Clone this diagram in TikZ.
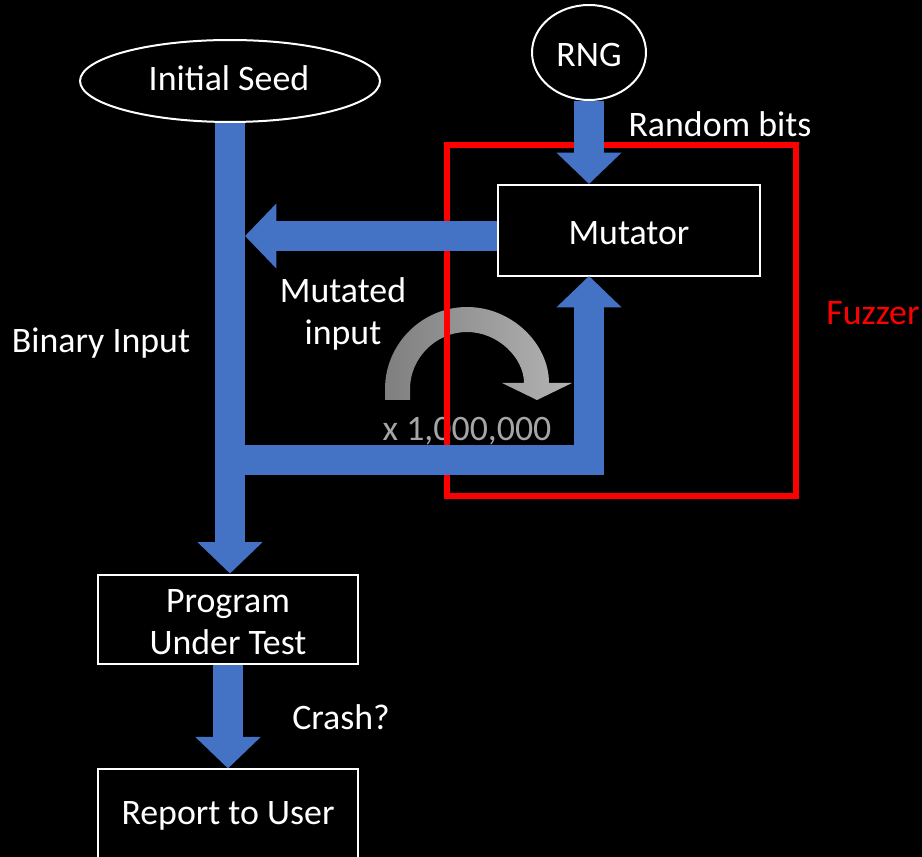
\documentclass[tikz,border=0pt]{standalone}
\usepackage{fontspec}
\setmainfont{Carlito}
\usetikzlibrary{arrows.meta, positioning, shapes.geometric}
\definecolor{arrowblue}{HTML}{4472C4}
\definecolor{fuzzred}{HTML}{FF0000}
\definecolor{loopgray}{HTML}{A6A6A6}
\definecolor{loopdark}{HTML}{7F7F7F}
\definecolor{looplight}{HTML}{B4B4B4}
\tikzset{
    block/.style={
        rectangle,
        draw=white,
        line width=0.04cm,
        minimum width=5.22cm,
        minimum height=1.8cm,
        inner sep=0pt,
        text=white,
        align=center
    },
    oval/.style={
        ellipse,
        draw=white,
        line width=0.04cm,
        inner sep=0pt,
        text=white
    },
    plain/.style={
        text=white,
        align=center,
        inner sep=0pt
    },
    fuzzbox/.style={
        rectangle,
        draw=fuzzred,
        line width=0.12cm,
        minimum width=6.98cm,
        minimum height=7.02cm,
        inner sep=0pt
    },
    fat/.style={
        draw=arrowblue,
        line width=0.6cm,
        -{Triangle[length=0.63cm, width=1.27cm]}
    }
}

\begin{document}
\begin{tikzpicture}[x=0.02cm, y=-0.02cm, font=\fontsize{20.4}{23.8}\selectfont]

\useasboundingbox (0,0) rectangle (922,857);
\fill[black] (0,0) rectangle (922,857);

% Sources
\node[oval, minimum width=6cm, minimum height=1.64cm] (seed) at (230,81) {};
\node[plain] at (229,78) {Initial Seed};
\node[oval, minimum width=2.28cm, minimum height=1.9cm] (rng) at (589,52.5) {};
\node[plain] at (589,55) {RNG};

% Fuzzer
\node[block, minimum width=5.24cm, minimum height=1.82cm] (mutator) at (629,230.5) {};
\node[plain] at (629,233) {Mutator};

% Loop marker
\shade[left color=loopdark, right color=looplight]
    (385,400) -- (385,389) .. controls (385,344) and (422,307) .. (467,307)
    .. controls (512,307) and (549,344) .. (549,383) -- (572,383) -- (537,400)
    -- (502,383) -- (524,383) .. controls (524,358) and (498,332) .. (467,332)
    .. controls (436,332) and (410,358) .. (410,389) -- (410,400) -- cycle;
\node[plain, text=loopgray] (times) at (467,431) {x 1,000,000};

\node[fuzzbox] (fuzzer) at (621.5,320.5) {};
\node[plain, text=fuzzred] (fuzzlabel) at (873,313) {Fuzzer};

% Program and report
\node[block] (put) at (228,619.5) {};
\node[plain] at (228,622) {Program\\Under Test};
\node[block, minimum height=1.84cm, below=2.06cm of put] (report) {};
\node[plain] at (228,816) {Report to User};

% Flow
\coordinate (join) at (245,236);
\coordinate (fork) at (230,460);
\coordinate (back) at (589,276);

\draw[fat] (rng.south) -- (rng.south |- mutator.north);
\draw[fat] (mutator.west |- join) -- (join);
\draw[fat] (seed.south) -- (seed.south |- put.north);
\draw[fat, line join=miter] (fork) -| (back);
\draw[fat] (put.south) -- (report.north);

% Labels
\node[plain] (bits) at (720,124) {Random bits};
\node[plain] (mutated) at (343,314) {Mutated\\input};
\node[plain] (binary) at (101,343) {Binary Input};
\node[plain] (crash) at (341,717) {Crash?};

\end{tikzpicture}
\end{document}
